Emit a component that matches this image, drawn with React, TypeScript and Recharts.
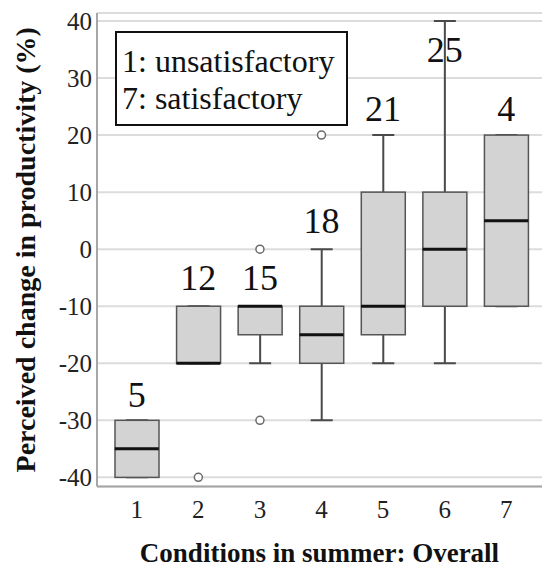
import React from 'react';
import { ComposedChart, Bar, Scatter, XAxis, YAxis, CartesianGrid } from 'recharts';

const categories = ['1', '2', '3', '4', '5', '6', '7'];
const whiskerLow = [-40, -20, -20, -30, -20, -20, -10];
const quartile1 = [-40, -20, -15, -20, -15, -10, -10];
const medians = [-35, -20, -10, -15, -10, 0, 5];
const quartile3 = [-30, -10, -10, -10, 10, 10, 20];
const whiskerHigh = [-30, -10, -10, 0, 20, 40, 20];
const outlierHigh: (number | null)[] = [null, null, 0, 20, null, null, null];
const outlierLow: (number | null)[] = [null, -40, -30, null, null, null, null];
const counts = [5, 12, 15, 18, 21, 25, 4];
const countLabelAt = [-25.5, -5, -5, 5, 24.5, 35, 24.5];
const yTicks = [-40, -30, -20, -10, 0, 10, 20, 30, 40];

const yTitle = 'Perceived change in productivity (%)';
const xTitle = 'Conditions in summer: Overall';
const legendLines = ['1: unsatisfactory', '7: satisfactory'];

const data = categories.map((c, i) => ({
  cat: c,
  whisker: [whiskerLow[i], whiskerHigh[i]],
  box: [quartile1[i], quartile3[i]],
  median: medians[i],
  outHigh: outlierHigh[i],
  outLow: outlierLow[i],
  n: counts[i],
  labelAt: countLabelAt[i],
}));

const FONT = '"Liberation Serif", "Times New Roman", serif';
const PAD = { left: 9, right: 5 };

const WhiskerShape = (props: any) => {
  const { x, y, width, height } = props;
  if (x == null || y == null) return null;
  const cx = x + width / 2;
  const top = Math.min(y, y + height);
  const bottom = Math.max(y, y + height);
  const cap = 11;
  return (
    <g stroke="#4a4a4a" strokeWidth={2}>
      <line x1={cx} y1={top} x2={cx} y2={bottom} />
      <line x1={cx - cap} y1={top} x2={cx + cap} y2={top} />
      <line x1={cx - cap} y1={bottom} x2={cx + cap} y2={bottom} />
    </g>
  );
};

const BoxShape = (props: any) => {
  const { x, y, width, height } = props;
  if (x == null || y == null) return null;
  const top = Math.min(y, y + height);
  const h = Math.abs(height);
  return <rect x={x} y={top} width={width} height={h} fill="#d3d3d3" stroke="#555" strokeWidth={1.5} />;
};

const MedianShape = (props: any) => {
  const { cx, cy } = props;
  if (cx == null || cy == null || isNaN(cy)) return null;
  return <line x1={cx - 22} y1={cy} x2={cx + 22} y2={cy} stroke="#111" strokeWidth={3} />;
};

const OutlierShape = (props: any) => {
  const { cx, cy } = props;
  if (cx == null || cy == null || isNaN(cy)) return null;
  return <circle cx={cx} cy={cy} r={4} fill="#fff" stroke="#6a6a6a" strokeWidth={1.5} />;
};

const CountShape = (props: any) => {
  const { cx, cy, payload } = props;
  if (cx == null || cy == null) return null;
  return (
    <text x={cx} y={cy} textAnchor="middle" dominantBaseline="central" fontSize={36} fontFamily={FONT} fill="#111">
      {payload.n}
    </text>
  );
};

const YTitle = (props: any) => {
  const vb = props.viewBox || {};
  const x = (vb.x ?? 0) + 25;
  const y = (vb.y ?? 0) + (vb.height ?? 0) / 2;
  return (
    <text x={x} y={y} transform={`rotate(-90, ${x}, ${y})`} textAnchor="middle" dominantBaseline="central"
      fontSize={28} fontWeight="bold" fontFamily={FONT} fill="#111">
      {yTitle}
    </text>
  );
};

const XTitle = (props: any) => {
  const vb = props.viewBox || {};
  const x = (vb.x ?? 0) + (vb.width ?? 0) / 2;
  const y = (vb.y ?? 0) + 66;
  return (
    <text x={x} y={y} textAnchor="middle" dominantBaseline="central"
      fontSize={27} fontWeight="bold" fontFamily={FONT} fill="#111">
      {xTitle}
    </text>
  );
};

export default function App() {
  return (
    <div style={{ position: 'absolute', left: 0, top: 0, width: 542, height: 569, background: '#fff' }}>
      <ComposedChart width={542} height={569} data={data} margin={{ top: 13, right: 0, left: 0, bottom: 0 }}>
        <CartesianGrid xAxisId="main" vertical={false} stroke="#dcdcdc" strokeWidth={2} />
        <XAxis
          xAxisId="main"
          dataKey="cat"
          padding={PAD}
          height={82.5}
          tickSize={0}
          tickMargin={14}
          axisLine={{ stroke: '#a6a6a6', strokeWidth: 2 }}
          tick={{ fontSize: 25, fontFamily: FONT, fill: '#222' }}
          label={<XTitle />}
        />
        <XAxis xAxisId="box" dataKey="cat" padding={PAD} height={0} orientation="top" hide />
        <YAxis
          width={97}
          domain={[-41.6, 41.4]}
          ticks={yTicks}
          interval={0}
          allowDataOverflow
          tickSize={0}
          tickMargin={5}
          axisLine={{ stroke: '#a6a6a6', strokeWidth: 2 }}
          tick={{ fontSize: 25, fontFamily: FONT, fill: '#222' }}
          label={<YTitle />}
        />
        <Bar xAxisId="main" dataKey="whisker" barSize={44} shape={<WhiskerShape />} isAnimationActive={false} />
        <Bar xAxisId="box" dataKey="box" barSize={44} shape={<BoxShape />} isAnimationActive={false} />
        <Scatter xAxisId="main" dataKey="median" shape={<MedianShape />} isAnimationActive={false} />
        <Scatter xAxisId="main" dataKey="outHigh" shape={<OutlierShape />} isAnimationActive={false} />
        <Scatter xAxisId="main" dataKey="outLow" shape={<OutlierShape />} isAnimationActive={false} />
        <Scatter xAxisId="main" dataKey="labelAt" shape={<CountShape />} isAnimationActive={false} />
      </ComposedChart>
      <div
        style={{
          position: 'absolute',
          left: 115,
          top: 31,
          width: 233,
          height: 95,
          boxSizing: 'border-box',
          border: '2px solid #111',
          background: '#fff',
          paddingTop: 10,
          paddingLeft: 5,
          fontFamily: FONT,
          fontSize: 32,
          lineHeight: '37px',
          color: '#111',
          whiteSpace: 'nowrap',
        }}
      >
        {legendLines.map((l) => (
          <div key={l}>{l}</div>
        ))}
      </div>
    </div>
  );
}
